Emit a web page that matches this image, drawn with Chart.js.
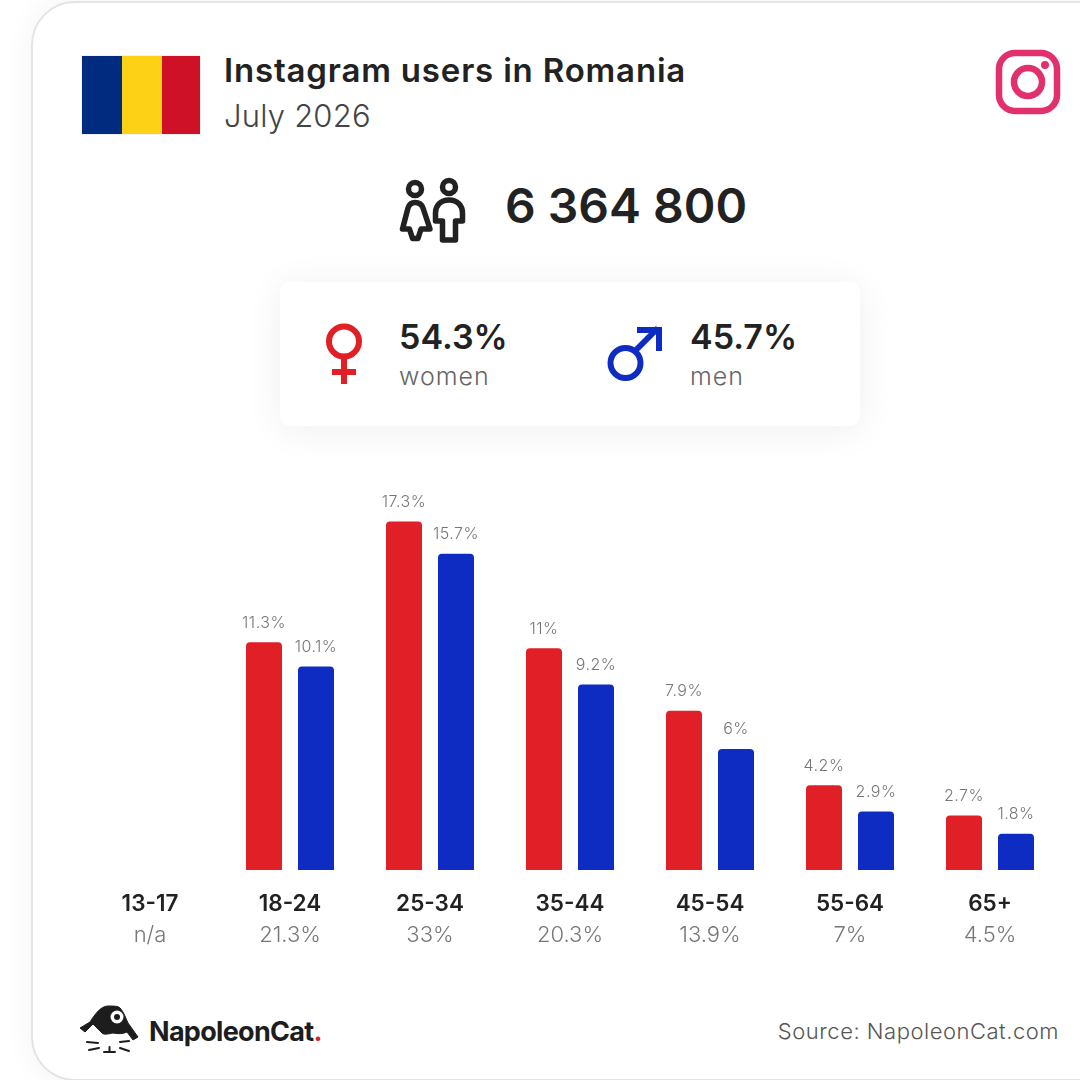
<!DOCTYPE html>
<html><head><meta charset="utf-8">
<style>
html,body{margin:0;padding:0;width:1080px;height:1080px;background:#fff;overflow:hidden;font-family:Inter,"Noto Sans",sans-serif;color:#222}
.card{position:absolute;left:31px;top:1px;width:1200px;height:1076px;border:2px solid #e4e4e4;border-radius:44px;background:#fff;box-shadow:0 0 30px rgba(0,0,0,.05)}
.stat{position:absolute;left:280px;top:282px;width:580px;height:144px;border-radius:10px;background:#fff;box-shadow:0 4px 36px rgba(0,0,0,.07)}
.t{position:absolute;white-space:nowrap;line-height:1;transform:translateY(-50%)}
canvas{position:absolute;left:0;top:0}
svg{position:absolute;left:0;top:0}
.flag{position:absolute;left:82px;top:56px;width:118px;height:78px;display:flex;outline:1px solid #f2f2f2}
.flag i{display:block;height:100%}
</style></head>
<body>
<div class="card"></div>
<div class="stat"></div>
<div class="flag"><i style="width:40px;background:#002B7F"></i><i style="width:40px;background:#FCD116"></i><i style="width:38px;background:#CE1126"></i></div>
<div class="t" style="left:224px;top:70px;font-size:33px;font-weight:600;letter-spacing:.82px">Instagram users in Romania</div>
<div class="t" style="left:224px;top:115px;font-size:31px;font-weight:300;letter-spacing:.2px;color:#444">July 2026</div>
<div class="t" style="left:505px;top:206px;font-size:48px;font-weight:600">6 364 800</div>
<div class="t" style="left:399px;top:337px;font-size:34px;font-weight:600">54.3%</div>
<div class="t" style="left:399px;top:376px;font-size:25px;font-weight:300;letter-spacing:1px;color:#666">women</div>
<div class="t" style="left:690px;top:337px;font-size:34px;font-weight:600">45.7%</div>
<div class="t" style="left:690px;top:376px;font-size:25px;font-weight:300;letter-spacing:1px;color:#666">men</div>
<div class="t" style="left:149px;top:1031px;font-size:27px;font-weight:700;letter-spacing:-.7px;color:#1d1d1d">NapoleonCat<span style="color:#e0202a">.</span></div>
<div class="t" style="right:21px;top:1031px;font-size:22px;font-weight:300;letter-spacing:.52px;color:#555">Source: NapoleonCat.com</div>
<svg width="1080" height="1080" viewBox="0 0 1080 1080" fill="none">
  <!-- Instagram -->
  <g stroke="#E1306C" stroke-width="6.5">
    <rect x="999" y="53" width="58" height="58" rx="16"/>
    <circle cx="1028" cy="82" r="14"/>
  </g>
  <circle cx="1045" cy="65" r="4" fill="#E1306C"/>
  <!-- people -->
  <g stroke="#222" stroke-width="5.500" stroke-linejoin="round" stroke-linecap="round">
    <circle cx="415" cy="189" r="6.500"/>
    <path d="M415 202.500C411 202.500 409 205 408 208L402.500 229H409.500L412.500 238.500H418L421 229H430L423 208C422 205 419 202.500 415 202.500Z"/>
    <circle cx="449" cy="187" r="6.500"/>
    <path d="M449 200C440 200 435.500 206 435.500 213V221H442.500V240H455.500V221H462.500V213C462.500 206 458 200 449 200Z"/>
  </g>
  <!-- female -->
  <g stroke="#E01F26" stroke-width="6">
    <ellipse cx="344" cy="341.500" rx="15" ry="15"/>
    <path d="M344 358V384M332 372H356"/>
  </g>
  <!-- male -->
  <g stroke="#0F2CC2" stroke-width="6">
    <circle cx="625.500" cy="363" r="15"/>
    <path d="M636 350L658 328"/>
  </g>
  <path d="M637 327H662V351H656V333H637z" fill="#0F2CC2"/>
  <!-- logo -->
  <path d="M80 1028L90 1022C95 1014 101 1006 108 1006C114 1006 118 1006 120 1008C124 1012 126 1019 128 1023L138 1037L133 1040L127 1032C123 1034 118 1034 113 1033C108 1034 104 1035 102 1033L93 1024L85 1032Z" fill="#1d1d1d" stroke="#1d1d1d" stroke-width="1" stroke-linejoin="round"/>
  <circle cx="117" cy="1017" r="6.500" fill="#fff"/><circle cx="117" cy="1017" r="3" fill="#1d1d1d"/>
  <g stroke="#1d1d1d" stroke-width="2" stroke-linecap="round">
    <path d="M87 1042L98 1043M89 1050L99 1048M120 1042L129 1041M120 1048L129 1051M104 1052H115M109.500 1052V1047"/>
  </g>
</svg>
<canvas id="c" width="1080" height="1080"></canvas>
<script src="https://cdn.jsdelivr.net/npm/chart.js@4"></script>
<script>
const categories = ["13-17","18-24","25-34","35-44","45-54","55-64","65+"];
const shares = ["n/a","21.3%","33%","20.3%","13.9%","7%","4.5%"];
const women = [null,11.3,17.3,11,7.9,4.2,2.7];
const men = [null,10.1,15.7,9.2,6,2.9,1.8];

const valueLabels = {
  id:"valueLabels",
  afterDatasetsDraw(chart){
    const ctx = chart.ctx;
    ctx.save();
    ctx.font = '300 16px Inter, "Noto Sans", sans-serif';
    ctx.letterSpacing = "0.5px";
    ctx.fillStyle = "#777";
    ctx.textAlign = "center";
    ctx.textBaseline = "middle";
    chart.data.datasets.forEach((ds,i)=>{
      chart.getDatasetMeta(i).data.forEach((el,j)=>{
        if(ds.data[j]==null) return;
        ctx.fillText(ds.data[j]+"%", el.x, el.y-19.5);
      });
    });
    ctx.restore();
  }
};
new Chart(document.getElementById("c"),{
  type:"bar",
  data:{labels:categories,datasets:[
    {label:"women",data:women,backgroundColor:"#E01F26",borderRadius:{topLeft:4,topRight:4},borderSkipped:false},
    {label:"men",data:men,backgroundColor:"#0F2CC2",borderRadius:{topLeft:4,topRight:4},borderSkipped:false}
  ]},
  options:{
    responsive:false,animation:false,devicePixelRatio:1,
    categoryPercentage:104/140,barPercentage:36/52,
    layout:{padding:{left:80,right:20,top:467,bottom:130}},
    plugins:{legend:{display:false},tooltip:{enabled:false},title:{display:false}},
    scales:{
      y:{display:false,min:0,max:20},
      x:{position:"bottom",offset:true,grid:{display:false},border:{display:false},
        afterFit(s){s.height=44},
        ticks:{color:"#222",padding:13,autoSkip:false,maxRotation:0,font:{family:'Inter',size:22.5,weight:"600"}}},
      x2:{position:"bottom",type:"category",labels:shares,offset:true,grid:{display:false},border:{display:false},
        afterFit(s){s.height=36},
        ticks:{color:"#777",padding:0,autoSkip:false,maxRotation:0,font:{family:'Inter',size:22,weight:"300"}}}
    }
  },
  plugins:[valueLabels]
});
</script>
</body></html>
